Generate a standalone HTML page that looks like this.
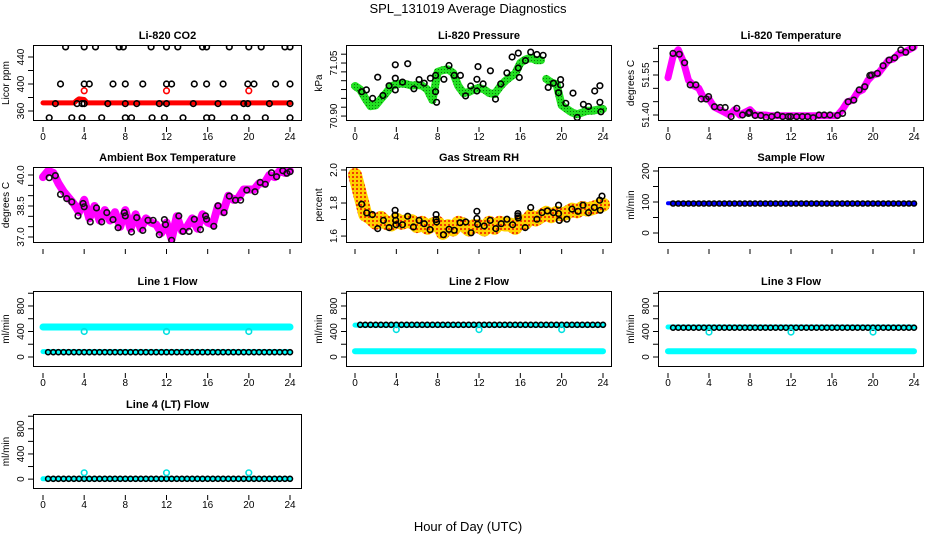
<!DOCTYPE html>
<html><head><meta charset="utf-8"><style>
html,body{margin:0;padding:0;background:#fff;}
svg{display:block;font-family:"Liberation Sans",sans-serif;}
</style></head><body>
<svg id="chart" width="936" height="540" viewBox="0 0 936 540">
<defs>
<pattern id="rhpat" width="4" height="4" patternUnits="userSpaceOnUse"><rect width="4" height="4" fill="#ffd000"/><rect x="0" y="0" width="2" height="2" fill="#f04000"/></pattern>
<pattern id="grpat" width="3" height="3" patternUnits="userSpaceOnUse"><rect width="3" height="3" fill="#22e022"/><rect x="0" y="0" width="1" height="1" fill="#0a7a0a"/></pattern>
</defs>
<text x="468" y="13" text-anchor="middle" font-size="13">SPL_131019  Average Diagnostics</text>
<text x="468" y="531" text-anchor="middle" font-size="13">Hour of Day (UTC)</text>
</svg>
<script>
// shared half-hour positions
const HH = [0.5,1,1.5,2,2.5,3,3.5,4,4.5,5,5.5,6,6.5,7,7.5,8,8.5,9,9.5,10,10.5,11,11.5,12,12.5,13,13.5,14,14.5,15,15.5,16,16.5,17,17.5,18,18.5,19,19.5,20,20.5,21,21.5,22,22.5,23,23.5,24];
const H49 = [0,0.5,1,1.5,2,2.5,3,3.5,4,4.5,5,5.5,6,6.5,7,7.5,8,8.5,9,9.5,10,10.5,11,11.5,12,12.5,13,13.5,14,14.5,15,15.5,16,16.5,17,17.5,18,18.5,19,19.5,20,20.5,21,21.5,22,22.5,23,23.5,24];
const xTickLabels = ["0","4","8","12","16","20","24"];
const xTicks = [0,4,8,12,16,20,24];

// CO2
const co2BandHours = [0,3,3.3,3.5,4,4.3,24];
const co2BandVals = [372,372,376,378,377,372,372];
const co2Hours = [2.2,4,5.1,7.4,7.8,10.5,12,13.1,15.5,15.9,18.1,20,21.2,23.5,24, 1.7,4,4.5,6.8,8,9.7,12,12.5,14.7,15.9,17.5,19.9,20.5,22.6,24, 1.2,3.3,3.8,4,6.3,8,9.1,11.3,12,14.6,17,19.5,19.9,22,24, 0.6,2.8,3.8,5.7,8,8.6,10.6,11.8,13.6,15.9,16.4,18.6,19.8,21.6,24];
const co2Vals = [455,455,455,455,455,455,455,455,455,455,455,455,455,455,455, 400,400,400,400,400,400,400,400,400,400,400,400,400,400,400, 371,371,371,371,371,371,371,371,371,371,371,371,371,371,371, 350,350,350,350,350,350,350,350,350,350,350,350,350,350,350];
const co2RedHours = [4,12,20];
const co2RedVals = [390,390,390];

// Pressure (null = gap in band)
const presBandHours = [0,0.5,1,1.5,2,2.5,3,3.5,4,4.5,5,5.5,6,6.5,7,7.5,8,8.5,9,9.5,10,10.5,11,11.5,12,12.5,13,13.5,14,14.5,15,15.5,16,16.5,17,17.5,18,18.2,18.5,19,19.5,20,20.5,21,21.5,22,22.5,23,23.5,24];
const presBandVals = [70.985,70.975,70.95,70.928,70.93,70.948,70.965,70.984,70.99,70.992,70.99,70.986,70.988,70.986,70.975,70.945,71.025,71.03,71.032,71.022,70.985,70.965,70.968,70.975,70.98,70.975,70.965,70.962,70.982,70.998,71.01,71.02,71.05,71.06,71.065,71.058,71.058,null,71.005,70.995,70.99,70.93,70.92,70.91,70.905,70.91,70.915,70.915,70.918,70.92];
const presHours = [0.65,1.1,1.7,2.2,2.7,3.3,3.9,3.9,3.9,4.6,5.1,5.7,6.2,6.7,7.3,7.8,7.9,7.8,8.6,9.1,9.6,10.2,10.7,11.2,11.8,11.8,11.9,12.4,13.1,13.6,14.1,14.7,15.2,15.8,15.8,15.9,16.5,17.0,17.6,18.2,18.7,19.2,19.7,19.9,19.9,20.4,21.1,21.5,22.1,22.6,23.2,23.7,23.7,23.8];
const presVals = [70.969,70.974,70.95,71.01,70.958,70.986,71.007,71.045,70.974,70.996,71.048,70.977,71.003,70.993,71.007,70.969,70.939,71.015,71.004,71.043,71.015,71.015,70.957,70.985,71.004,70.971,71.04,70.991,71.028,70.948,70.991,71.022,71.067,71.078,71.036,71.009,71.057,71.081,71.074,71.072,70.981,70.993,70.966,70.988,71.003,70.936,70.965,70.896,70.933,70.927,70.971,70.986,70.939,70.912];

// Li-820 temperature
const ltBandVals = [51.54,51.62,51.645,51.60,51.53,51.51,51.50,51.462,51.46,51.43,51.42,51.41,51.40,51.42,51.40,51.41,51.42,51.40,51.40,51.40,51.397,51.397,51.397,51.397,51.397,51.397,51.397,51.397,51.397,51.397,51.397,51.397,51.397,51.397,51.42,51.45,51.455,51.485,51.495,51.53,51.55,51.555,51.58,51.605,51.61,51.63,51.635,51.645,51.655];
const ltHours = [0.49,1.1,1.62,2.17,2.72,3.24,3.73,3.96,4.54,5.09,5.58,6.16,6.71,7.27,7.85,7.95,8.5,9.05,9.57,10.12,10.67,11.19,11.74,11.97,12.55,13.1,13.62,14.17,14.73,15.24,15.8,16.54,17.03,17.58,18.13,18.65,19.2,19.69,19.85,20.43,20.99,21.57,22.12,22.71,23.19,23.84];
const ltVals = [51.631,51.628,51.596,51.513,51.513,51.46,51.46,51.469,51.431,51.428,51.428,51.394,51.425,51.40,51.406,51.41,51.398,51.398,51.391,51.394,51.40,51.394,51.394,51.394,51.394,51.394,51.394,51.39,51.40,51.40,51.40,51.398,51.406,51.45,51.456,51.494,51.506,51.548,51.55,51.556,51.585,51.606,51.615,51.644,51.635,51.653];

// Ambient box temperature
const ambBandVals = [39.9,40.2,40.1,39.6,39.2,38.9,38.6,38.2,38.8,37.9,38.5,37.8,38.3,37.8,38.2,37.5,38.3,37.4,38.1,37.4,37.9,37.7,37.6,37.2,37.7,36.9,38.0,37.3,37.5,37.9,37.4,38.1,37.7,37.6,38.5,38.2,39.0,38.8,38.9,39.3,39.3,39.3,39.6,39.6,40.0,39.9,40.2,40.1,40.2];
const ambHours = [0.6,1.2,1.7,2.3,2.8,3.4,3.9,4.0,4.6,5.2,5.7,6.2,6.8,7.3,7.9,8.0,8.6,9.1,9.7,10.2,10.7,11.3,11.8,11.9,12.5,13.2,13.6,14.2,14.7,15.3,15.8,15.9,16.6,17.0,17.6,18.1,18.7,19.2,19.8,20.6,21.1,21.6,22.2,22.7,23.3,23.7,24];
const ambVals = [39.87,39.97,39.06,38.86,38.7,38.02,38.62,38.46,37.73,38.41,37.73,38.18,37.84,37.45,38.18,38.02,37.24,37.94,37.32,37.81,37.81,37.11,37.84,37.6,36.84,38.02,37.27,37.27,37.86,37.36,38.02,37.86,37.52,38.51,38.18,38.98,38.78,38.78,39.27,39.19,39.64,39.55,40.11,39.92,40.21,40.08,40.16];

// Gas stream RH
const rhBandVals = [1.97,1.85,1.73,1.71,1.68,1.71,1.68,1.67,1.70,1.68,1.69,1.69,1.66,1.68,1.65,1.67,1.68,1.62,1.66,1.64,1.68,1.67,1.64,1.66,1.66,1.64,1.68,1.65,1.68,1.67,1.67,1.65,1.69,1.68,1.72,1.70,1.72,1.74,1.72,1.74,1.73,1.74,1.76,1.75,1.77,1.76,1.77,1.78,1.79];
const rhHours = [0.65,1.13,1.68,2.2,2.75,3.3,3.88,3.88,3.94,3.97,4.6,5.1,5.65,6.2,6.7,7.27,7.85,7.85,7.9,8.56,9.1,9.6,10.17,10.72,11.24,11.8,11.8,11.86,12.5,13.08,13.63,14.15,14.7,15.25,15.76,15.76,15.8,16.47,17.0,17.6,18.1,18.63,19.2,19.7,19.7,19.77,20.5,21.0,21.58,22.06,22.6,23.16,23.68,23.74,23.9];
const rhVals = [1.793,1.74,1.73,1.645,1.695,1.651,1.756,1.726,1.695,1.669,1.669,1.72,1.655,1.695,1.675,1.639,1.73,1.70,1.685,1.608,1.641,1.635,1.681,1.685,1.62,1.75,1.706,1.671,1.661,1.695,1.645,1.675,1.702,1.669,1.736,1.722,1.71,1.651,1.773,1.702,1.742,1.752,1.742,1.787,1.736,1.695,1.702,1.763,1.75,1.787,1.742,1.773,1.817,1.756,1.842];

// Flows
const flatHours = [0,24];
const sampleBand = [96,95];
const sampleVals = [95,95,95,95,95,95,95,95,95,95,95,95,95,95,95,95,95,95,95,95,95,95,95,95,95,95,95,95,95,95,95,95,95,95,95,95,95,95,95,95,95,95,95,95,95,95,95,95];
const spikeHours = [4,12,20];
const l1Upper = [470,470], l1Lower = [85,85];
const l1Vals = [75,75,75,75,75,75,75,75,75,75,75,75,75,75,75,75,75,75,75,75,75,75,75,75,75,75,75,75,75,75,75,75,75,75,75,75,75,75,75,75,75,75,75,75,75,75,75,75];
const l1Spikes = [400,400,400];
const l2Upper = [500,500], l2Lower = [90,90];
const l2Vals = [505,505,505,505,505,505,505,505,505,505,505,505,505,505,505,505,505,505,505,505,505,505,505,505,505,505,505,505,505,505,505,505,505,505,505,505,505,505,505,505,505,505,505,505,505,505,505,505];
const l2Spikes = [430,430,430];
const l3Upper = [470,470], l3Lower = [90,90];
const l3Vals = [460,460,460,460,460,460,460,460,460,460,460,460,460,460,460,460,460,460,460,460,460,460,460,460,460,460,460,460,460,460,460,460,460,460,460,460,460,460,460,460,460,460,460,460,460,460,460,460];
const l3Spikes = [390,390,390];
const l4Band = [5,5];
const l4Vals = [5,5,5,5,5,5,5,5,5,5,5,5,5,5,5,5,5,5,5,5,5,5,5,5,5,5,5,5,5,5,5,5,5,5,5,5,5,5,5,5,5,5,5,5,5,5,5,5];
const l4Spikes = [100,100,100];

const NS = "http://www.w3.org/2000/svg";
const svg = document.getElementById("chart");
const COLL = [33,346,658], COLR = [302,612,924], X0 = [43,355,668], X24 = [290,603,914];
const ROWT = [45,167,291,414], ROWB = [121,243,367,489];

function mk(tag, attrs, parent){
  const e = document.createElementNS(NS, tag);
  for (const k in attrs) e.setAttribute(k, attrs[k]);
  (parent||svg).appendChild(e);
  return e;
}

function panel(p){
  const g = mk("g", {});
  
  
  const L = COLL[p.col], R = COLR[p.col], T = ROWT[p.row], B = ROWB[p.row];
  const xs = h => X0[p.col] + (X24[p.col]-X0[p.col]) * h / 24;
  const ys = v => B - (v - p.ymin) / (p.ymax - p.ymin) * (B - T);
  const cp = mk("clipPath", {id: "cp"+p.name}, g);
  mk("rect", {x:L, y:T, width:R-L, height:B-T}, cp);
  const plot = mk("g", {"clip-path": "url(#cp"+p.name+")"}, g);
  (p.bands||[]).forEach(b => {
    let d = "", pen = false;
    b.vals.forEach((v,i) => {
      if (v === null) { pen = false; return; }
      d += (pen ? "L" : "M") + xs(b.hours[i]).toFixed(1) + "," + ys(v).toFixed(1);
      pen = true;
    });
    const path = mk("path", {d:d, fill:"none", stroke:b.color, "stroke-width":b.w, "stroke-linejoin":"round", "stroke-linecap":"round"}, plot);
    
    
  });
  (p.points||[]).forEach(s => {
    s.vals.forEach((v,i) => {
      const c = mk("circle", {cx:xs(s.hours[i]).toFixed(1), cy:ys(v).toFixed(1), r:s.r||2.8, fill:"none", stroke:s.color, "stroke-width":s.sw||1.6}, plot);
      
      
    });
  });
  const box = mk("rect", {x:L+0.5, y:T+0.5, width:R-L-1, height:B-T-1, fill:"none", stroke:"#000", "stroke-width":1}, g);
  
  
  const t = mk("text", {x:(L+R)/2, y:T-6, "text-anchor":"middle", "font-size":11, "font-weight":"bold"}, g);
  t.textContent = p.title;
  
  
  xTicks.forEach((h,i) => {
    mk("line", {x1:xs(h), x2:xs(h), y1:B+6, y2:B+11, stroke:"#000"}, g);
    if (p.xlab) {
      const tl = mk("text", {x:xs(h), y:B+19, "text-anchor":"middle", "font-size":10}, g);
      tl.textContent = xTickLabels[i];
      
      
    }
  });
  p.yticks.forEach(v => {
    mk("line", {x1:L-5, x2:L, y1:ys(v), y2:ys(v), stroke:"#000"}, g);
  });
  p.ylabels.forEach((lab,i) => {
    const yy = ys(p.ylabelVals[i]);
    const tl = mk("text", {x:0, y:0, "text-anchor":"middle", "font-size":10, transform:"translate("+(L-9)+","+yy+") rotate(-90)"}, g);
    tl.textContent = lab;
    
    
  });
  const yl = mk("text", {x:0, y:0, "text-anchor":"middle", "font-size":10, transform:"translate("+(L-24)+","+(T+B)/2+") rotate(-90)"}, g);
  yl.textContent = p.ylab;
  
  
}

const LY = {ymin:-157, ymax:1035, yticks:[0,200,400,600,800,1000], ylabels:["0","400","800"], ylabelVals:[0,400,800], ylab:"ml/min"};

panel({name:"co2-panel", col:0,row:0,title:"Li-820 CO2", ylab:"Licor ppm", ymin:345.2, ymax:457.8, xlab:true,
  yticks:[360,380,400,420,440], ylabels:["360","400","440"], ylabelVals:[360,400,440],
  bands:[{name:"co2-band",hours:co2BandHours, vals:co2BandVals, color:"#ff0000", w:5}],
  points:[{name:"co2-point",hours:co2Hours, vals:co2Vals, color:"#000"},{name:"co2-red-point",hours:co2RedHours, vals:co2RedVals, color:"#ff0000"}]});
panel({name:"pressure-panel", col:1,row:0,title:"Li-820 Pressure", ylab:"kPa", ymin:70.886, ymax:71.101, xlab:true,
  yticks:[70.9,70.925,70.95,70.975,71.0,71.025,71.05,71.075], ylabels:["70.90","71.05"], ylabelVals:[70.9,71.05],
  bands:[{name:"pressure-band",hours:presBandHours, vals:presBandVals, color:"url(#grpat)", w:8}],
  points:[{name:"pressure-point",hours:presHours, vals:presVals, color:"#000"}]});
panel({name:"li-temp-panel", col:2,row:0,title:"Li-820 Temperature", ylab:"degrees C", ymin:51.3775, ymax:51.6625, xlab:true,
  yticks:[51.40,51.45,51.50,51.55,51.60,51.65], ylabels:["51.40","51.55"], ylabelVals:[51.40,51.55],
  bands:[{name:"li-temp-band",hours:H49, vals:ltBandVals, color:"#ff00ff", w:7}],
  points:[{name:"li-temp-point",hours:ltHours, vals:ltVals, color:"#111"}]});
panel({name:"ambient-panel", col:0,row:1,title:"Ambient Box Temperature", ylab:"degrees C", ymin:36.71, ymax:40.387, xlab:false,
  yticks:[37,37.5,38,38.5,39,39.5,40], ylabels:["37.0","38.5","40.0"], ylabelVals:[37,38.5,40],
  bands:[{name:"ambient-band",hours:H49, vals:ambBandVals, color:"#ff00ff", w:8}],
  points:[{name:"ambient-point",hours:ambHours, vals:ambVals, color:"#111"}]});
panel({name:"rh-panel", col:1,row:1,title:"Gas Stream RH", ylab:"percent", ymin:1.558, ymax:2.018, xlab:false,
  yticks:[1.6,1.7,1.8,1.9,2.0], ylabels:["1.6","1.8","2.0"], ylabelVals:[1.6,1.8,2.0],
  bands:[{name:"rh-band",hours:H49, vals:rhBandVals, color:"url(#rhpat)", w:14}],
  points:[{name:"rh-point",hours:rhHours, vals:rhVals, color:"#000"}]});
panel({name:"sample-flow-panel", col:2,row:1,title:"Sample Flow", ylab:"ml/min", ymin:-32.3, ymax:212.9, xlab:false,
  yticks:[0,50,100,150,200], ylabels:["0","100","200"], ylabelVals:[0,100,200],
  bands:[{name:"sample-band",hours:flatHours, vals:sampleBand, color:"#0000ff", w:4}],
  points:[{name:"sample-point",hours:HH, vals:sampleVals, color:"#000", r:2.5}]});
panel(Object.assign({name:"line1-panel", col:0,row:2,title:"Line 1 Flow", xlab:true,
  bands:[{name:"line1-upper",hours:flatHours, vals:l1Upper, color:"#00ffff", w:7},{name:"line1-lower",hours:flatHours, vals:l1Lower, color:"#00ffff", w:5}],
  points:[{name:"line1-point",hours:HH, vals:l1Vals, color:"#000", r:2.5},{name:"line1-spike",hours:spikeHours, vals:l1Spikes, color:"#00e0e0"}]}, LY));
panel(Object.assign({name:"line2-panel", col:1,row:2,title:"Line 2 Flow", xlab:true,
  bands:[{name:"line2-upper",hours:flatHours, vals:l2Upper, color:"#00ffff", w:5},{name:"line2-lower",hours:flatHours, vals:l2Lower, color:"#00ffff", w:6}],
  points:[{name:"line2-point",hours:HH, vals:l2Vals, color:"#000", r:2.5},{name:"line2-spike",hours:spikeHours, vals:l2Spikes, color:"#00e0e0"}]}, LY));
panel(Object.assign({name:"line3-panel", col:2,row:2,title:"Line 3 Flow", xlab:true,
  bands:[{name:"line3-upper",hours:flatHours, vals:l3Upper, color:"#00ffff", w:5},{name:"line3-lower",hours:flatHours, vals:l3Lower, color:"#00ffff", w:6}],
  points:[{name:"line3-point",hours:HH, vals:l3Vals, color:"#000", r:2.5},{name:"line3-spike",hours:spikeHours, vals:l3Spikes, color:"#00e0e0"}]}, LY));
panel(Object.assign({name:"line4-panel", col:0,row:3,title:"Line 4 (LT) Flow", xlab:true,
  bands:[{name:"line4-band",hours:flatHours, vals:l4Band, color:"#00ffff", w:5}],
  points:[{name:"line4-point",hours:HH, vals:l4Vals, color:"#000", r:2.5},{name:"line4-spike",hours:spikeHours, vals:l4Spikes, color:"#00e0e0"}]}, LY));
</script>
</body></html>
